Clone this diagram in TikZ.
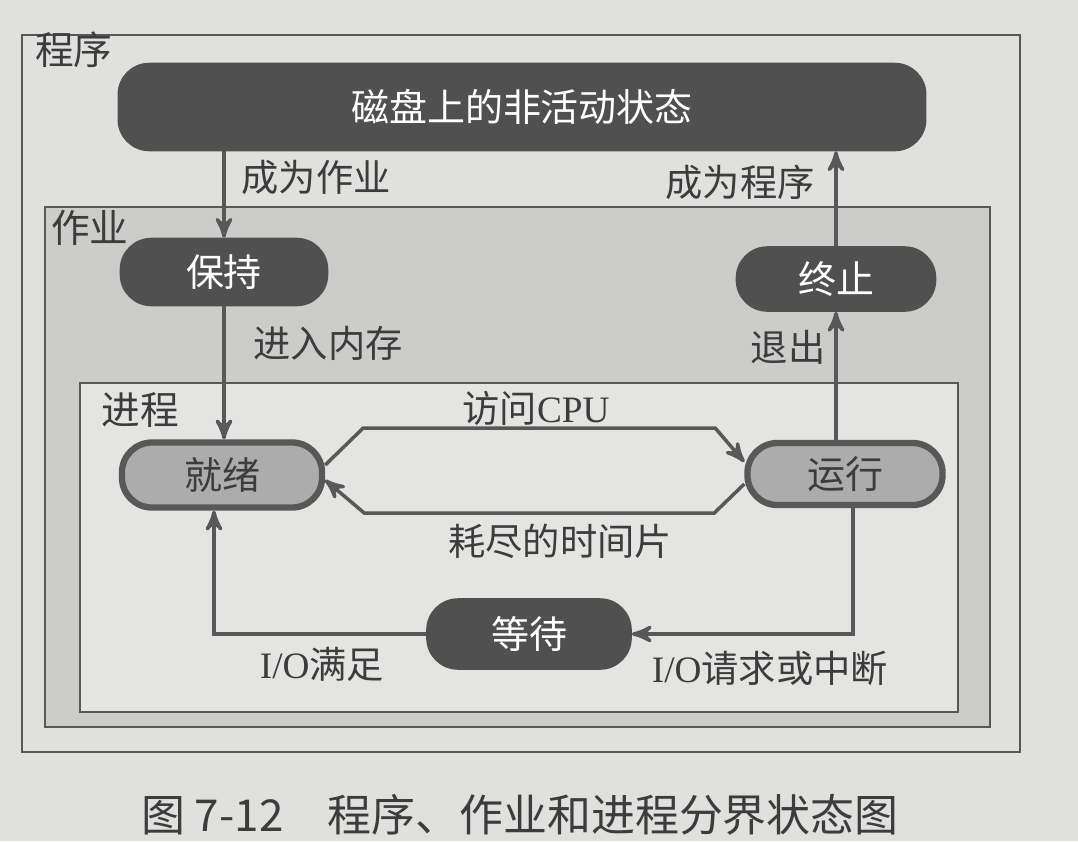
\documentclass[tikz,border=0pt]{standalone}
\usepackage{fontspec}
\setmainfont{Noto Sans CJK SC}
\newfontfamily\latin{Liberation Serif}
\usetikzlibrary{positioning, arrows, calc}
\definecolor{paper}{RGB}{224,224,222}
\definecolor{jobfill}{RGB}{204,204,202}
\definecolor{procfill}{RGB}{228,228,226}
\definecolor{darkstate}{RGB}{80,80,80}
\definecolor{lightstate}{RGB}{172,172,172}
\definecolor{ink}{RGB}{88,88,88}
\definecolor{txt}{RGB}{60,60,60}

\begin{document}
\begin{tikzpicture}[x=0.01cm, y=-0.01cm, >=stealth', draw=ink, line width=1pt,
		darknode/.style={fill=darkstate, draw=darkstate, text=white, rounded corners=0.3cm, font=\fontsize{10.8}{13}\selectfont},
		lightnode/.style={fill=lightstate, draw=ink, line width=1.8pt, rounded corners=0.3cm, text=txt, font=\fontsize{10.8}{13}\selectfont},
		area/.style={draw=ink, line width=0.7pt},
		arealbl/.style={text=txt, font=\fontsize{11}{13}\selectfont},
		lbl/.style={text=txt, font=\fontsize{10.6}{13}\selectfont},
	]
			\useasboundingbox (0,0) rectangle (1078,841);
			\fill[paper] (0,0) rectangle (1078,841);

			% nested areas
			\draw[area] (22,35) rectangle (1020,752);
			\draw[area, fill=jobfill] (45,207) rectangle (990,727);
			\draw[area, fill=procfill] (80,383) rectangle (958,712);
			\node[arealbl] at (74,50)  (prog) {程序};
			\node[arealbl] at (90,228) (job)  {作业};
			\node[arealbl] at (140,410) (proc) {进程};

			% states
			\node[darknode, minimum width=8.05cm, minimum height=0.85cm] at (522,107) (disk) {磁盘上的非活动状态};
			\node[darknode, minimum width=2.05cm, minimum height=0.65cm] at (224,272) (hold) {保持};
			\node[darknode, minimum width=1.97cm, minimum height=0.62cm] at (836,279) (stop) {终止};
			\node[lightnode, minimum width=2.0cm, minimum height=0.65cm] at (222,475) (ready) {就绪};
			\node[lightnode, minimum width=1.95cm, minimum height=0.62cm] at (845,474) (run) {运行};
			\node[darknode, minimum width=2.02cm, minimum height=0.68cm] at (529,634) (wait) {等待};

			% transitions
			\draw[->] (disk.south -| hold.north) -- (hold.north);
			\draw[->] (stop.north) -- (stop.north |- disk.south);
			\draw[->] (hold.south) -- (hold.south |- ready.north);
			\draw[->] (run.north -| stop.south) -- (stop.south);
			\draw[->] ($(ready.east)+(0,-10)$) -- ++(38,-37) -- ++(352,0) -- ($(run.west)+(0,-12)$);
			\draw[->] ($(run.west)+(0,10)$) -- ++(-30,29) -- ++(-350,0) -- ($(ready.east)+(0,5)$);
			\draw[->] ([xshift=0.08cm]run.south) |- (wait.east);
			\draw[->] (wait.west) -| ([xshift=-0.08cm]ready.south);

			% labels
			\node[lbl] at (316,177) (tojob)  {成为作业};
			\node[lbl] at (740,182) (toprog) {成为程序};
			\node[lbl] at (328,343) (load)   {进入内存};
			\node[lbl] at (788,347) (quit)   {退出};
			\node[lbl] at (536,408) (cpu)    {访问{\latin CPU}};
			\node[lbl] at (560,541) (slice)  {耗尽的时间片};
			\node[lbl] at (322,664) (iook)   {{\latin I/O}满足};
			\node[lbl] at (770,668) (ioreq)  {{\latin I/O}请求或中断};

			\node[text=txt, font=\fontsize{12.5}{15}\selectfont] at (520,815) (caption) {图 7-12\quad 程序、作业和进程分界状态图};
\end{tikzpicture}
\end{document}
